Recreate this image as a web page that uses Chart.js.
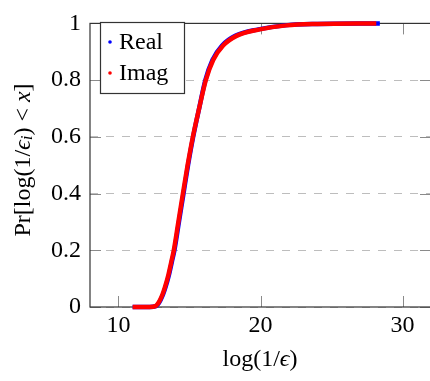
<!DOCTYPE html>
<html>
<head>
<meta charset="utf-8">
<script src="https://cdn.jsdelivr.net/npm/chart.js@4/dist/chart.umd.min.js"></script>
<style>
  html, body { margin: 0; padding: 0; background: #fff; overflow: hidden; }
  #wrap { width: 440px; height: 381px; }
</style>
</head>
<body>
<div id="wrap"><canvas id="cdfChart" width="440" height="381"></canvas></div>
<script>
// values
const cdfLevels = [0, 0, 0, 0.003, 0.01, 0.024, 0.044, 0.069, 0.114, 0.159, 0.2, 0.3, 0.4, 0.5, 0.6, 0.7, 0.8, 0.871, 0.922, 0.956, 0.979, 0.993, 0.998, 1.0];
const realX = [11.0, 11.6, 12.2, 12.64, 12.79, 12.96, 13.14, 13.31, 13.56, 13.76, 13.94, 14.26, 14.58, 14.9, 15.26, 15.68, 16.12, 16.62, 17.3, 18.22, 19.85, 21.7, 24.0, 28.4];
const imagX = [11.0, 11.6, 12.2, 12.6, 12.75, 12.92, 13.1, 13.27, 13.52, 13.72, 13.9, 14.22, 14.54, 14.87, 15.24, 15.68, 16.15, 16.67, 17.37, 18.31, 19.95, 21.82, 24.0, 28.15];
const xTicks = [10, 20, 30];
const seriesNames = ['Real', 'Imag'];
const seriesColors = ['#0000ff', '#ff0000'];

const FONT = '"Liberation Serif", "DejaVu Serif", serif';

function toPoints(xs, ys) {
    return xs.map((x, i) => ({ x: x, y: ys[i] }));
}

// draw a run of text pieces (normal / italic / subscript) centred on cx
function drawPieces(ctx, pieces, cx, cy) {
    let total = 0;
    pieces.forEach(p => {
        ctx.font = (p.italic ? 'italic ' : '') + p.size + 'px ' + FONT;
        p.w = ctx.measureText(p.t).width;
        total += p.w;
    });
    let x = cx - total / 2;
    pieces.forEach(p => {
        ctx.font = (p.italic ? 'italic ' : '') + p.size + 'px ' + FONT;
        ctx.fillText(p.t, x, cy + (p.dy || 0));
        x += p.w;
    });
}

// frame + inner tick marks, drawn under the curves
const framePlugin = {
    id: 'frame',
    beforeDatasetsDraw(chart) {
        const { ctx, chartArea: a, scales } = chart;
        ctx.save();
        ctx.strokeStyle = '#8a8a8a';
        ctx.lineWidth = 1;
        ctx.beginPath();
        xTicks.forEach(v => {
            const px = Math.round(scales.x.getPixelForValue(v)) + 0.5;
            ctx.moveTo(px, a.bottom); ctx.lineTo(px, a.bottom - 11);
            ctx.moveTo(px, a.top); ctx.lineTo(px, a.top + 11);
        });
        scales.y.ticks.forEach(t => {
            const py = Math.round(scales.y.getPixelForValue(t.value)) + 0.5;
            ctx.moveTo(a.left, py); ctx.lineTo(a.left + 11, py);
            ctx.moveTo(a.right, py); ctx.lineTo(a.right - 11, py);
        });
        ctx.stroke();
        ctx.strokeStyle = '#333';
        ctx.lineWidth = 1.2;
        ctx.strokeRect(a.left, a.top, a.right - a.left, a.bottom - a.top);
        ctx.restore();
    }
};

// legend box and axis titles
const labelPlugin = {
    id: 'labels',
    afterDraw(chart) {
        const ctx = chart.ctx;
        ctx.save();
        // legend
        ctx.fillStyle = '#fff';
        ctx.fillRect(100, 22, 84, 71);
        ctx.strokeStyle = '#333';
        ctx.lineWidth = 1.2;
        ctx.strokeRect(100.5, 22.5, 84, 71);
        const rows = [49, 80];
        seriesNames.forEach((name, i) => {
            ctx.fillStyle = seriesColors[i];
            ctx.beginPath();
            ctx.arc(110, rows[i] - 7, 1.8, 0, Math.PI * 2);
            ctx.fill();
            ctx.fillStyle = '#000';
            ctx.font = '24px ' + FONT;
            ctx.textAlign = 'left';
            ctx.textBaseline = 'alphabetic';
            ctx.fillText(name, 119, rows[i]);
        });

        // x title
        ctx.fillStyle = '#000';
        ctx.textAlign = 'left';
        ctx.textBaseline = 'middle';
        drawPieces(ctx, [
            { t: 'log(1/', size: 24 },
            { t: 'ϵ', size: 24, italic: true },
            { t: ')', size: 24 }
        ], 260, 360);

        // y title (rotated)
        ctx.translate(24, 160);
        ctx.rotate(-Math.PI / 2);
        drawPieces(ctx, [
            { t: 'Pr[log(1/', size: 24 },
            { t: 'ϵ', size: 24, italic: true },
            { t: 'i', size: 17, italic: true, dy: 4 },
            { t: ') < ', size: 24 },
            { t: 'x', size: 24, italic: true },
            { t: ']', size: 24 }
        ], 0, 0);
        ctx.restore();
    }
};

const ctx = document.getElementById('cdfChart').getContext('2d');
const cdfChart = new Chart(ctx, {
    type: 'line',
    data: {
        datasets: [
            {
                label: seriesNames[0],
                data: toPoints(realX, cdfLevels),
                borderColor: seriesColors[0],
                borderWidth: 4.5,
                pointRadius: 0,
                cubicInterpolationMode: 'monotone',
                clip: false,
                order: 1
            },
            {
                label: seriesNames[1],
                data: toPoints(imagX, cdfLevels),
                borderColor: seriesColors[1],
                borderWidth: 4.5,
                pointRadius: 0,
                cubicInterpolationMode: 'monotone',
                clip: false,
                order: 0
            }
        ]
    },
    options: {
        responsive: false,
        animation: false,
        layout: { padding: { left: 0, top: 12, right: 9, bottom: 0 } },
        scales: {
            x: {
                type: 'linear',
                min: 8,
                max: 32,
                afterBuildTicks: scale => { scale.ticks = xTicks.map(v => ({ value: v })); },
                afterFit: scale => { scale.height = 74; },
                grid: { display: false, drawTicks: false },
                border: { display: false },
                ticks: {
                    color: '#000',
                    font: { family: FONT, size: 24 },
                    padding: 4,
                    maxRotation: 0
                }
            },
            y: {
                min: 0,
                max: 1,
                afterFit: scale => { scale.width = 90; },
                grid: {
                    color: '#bdbdbd',
                    lineWidth: 1,
                    drawTicks: false
                },
                border: { display: false, dash: [8, 8] },
                ticks: {
                    stepSize: 0.2,
                    color: '#000',
                    font: { family: FONT, size: 24 },
                    padding: 9,
                    callback: v => String(+v.toFixed(2))
                }
            }
        },
        plugins: {
            legend: { display: false },
            tooltip: { enabled: false }
        }
    },
    plugins: [framePlugin, labelPlugin]
});
</script>
</body>
</html>
